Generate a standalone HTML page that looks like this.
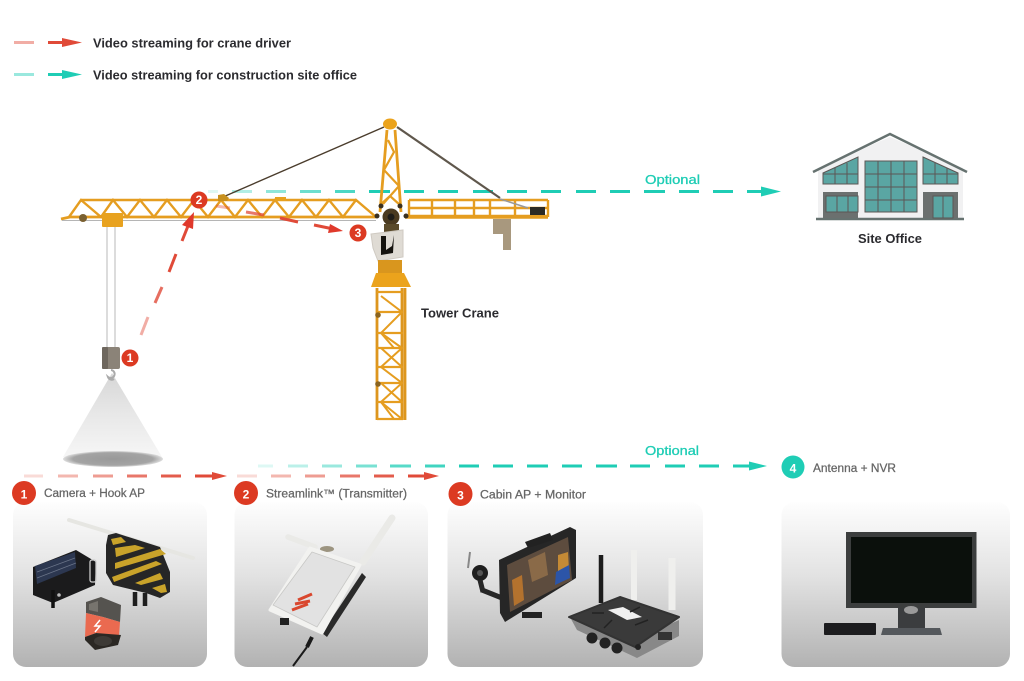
<!DOCTYPE html>
<html lang="en"><head><meta charset="utf-8"><title>Tower crane video streaming diagram</title>
<style>
html,body{margin:0;padding:0;background:#fff}
svg{display:block}
text{font-family:"Liberation Sans",sans-serif}
.l{font-size:12.5px;font-weight:700;fill:#2b2b2f}
.g{font-size:11.5px;fill:#666;stroke:#666;stroke-width:.25}
.o{font-size:13px;fill:#1fcdb5;stroke:#1fcdb5;stroke-width:.3}
.n{font-size:12px;font-weight:700;fill:#fff;text-anchor:middle}
.r{stroke:#e04a38;stroke-width:3;fill:none}
.t{stroke:#1fcdb5;stroke-width:3;fill:none}
.y{stroke:#e59d20;fill:none}
</style></head><body>
<svg width="1024" height="681" viewBox="0 0 1024 681" xmlns="http://www.w3.org/2000/svg">
<defs>
<linearGradient id="c" x1="0" y1="0" x2="0" y2="1"><stop offset="0" stop-color="#fefefe"/><stop offset=".45" stop-color="#e2e2e2"/><stop offset="1" stop-color="#b2b2b2"/></linearGradient>
<linearGradient id="cone" x1="0" y1="0" x2="0" y2="1"><stop offset="0" stop-color="#d6d6d6"/><stop offset=".5" stop-color="#e8e8e8"/><stop offset="1" stop-color="#f6f6f6"/></linearGradient>
<radialGradient id="sh"><stop offset="0" stop-color="#999"/><stop offset=".8" stop-color="#a4a4a4"/><stop offset="1" stop-color="#ddd"/></radialGradient>
</defs>

<!-- legend -->
<path class="r" d="M14 42.500H34" opacity=".45"/><path class="r" d="M48 42.500H64"/><path d="M62 38L82 42.500L62 47Z" fill="#e04a38"/>
<text class="l" x="93" y="47.500" textLength="198" lengthAdjust="spacingAndGlyphs">Video streaming for crane driver</text>
<path class="t" d="M14 74.500H34" opacity=".45"/><path class="t" d="M48 74.500H64"/><path d="M62 70L82 74.500L62 79Z" fill="#1fcdb5"/>
<text class="l" x="93" y="79.500" textLength="264" lengthAdjust="spacingAndGlyphs">Video streaming for construction site office</text>

<!-- top teal line -->
<g class="t">
<path d="M208 191.500H218" opacity=".15"/><path d="M232 191.500H252" opacity=".35"/><path d="M266 191.500H286" opacity=".5"/><path d="M300 191.500H321" opacity=".65"/><path d="M335 191.500H355" opacity=".8"/>
<path d="M369 191.500H390M404 191.500H424M438 191.500H458M473 191.500H493M507 191.500H527M541 191.500H561M576 191.500H596M610 191.500H630M644 191.500H665M679 191.500H699M713 191.500H733M747 191.500H764"/>
</g>
<path d="M761 186.500L781 191.500L761 196.500Z" fill="#1fcdb5"/>
<text class="o" x="645" y="184" textLength="55" lengthAdjust="spacingAndGlyphs">Optional</text>

<!-- crane ties -->
<path d="M223 197L384 127" stroke="#4a3c2c" stroke-width="1.400"/>
<path d="M397 127L500 198" stroke="#5f574c" stroke-width="2.200"/>
<!-- mast head -->
<g class="y" stroke-width="2.800">
<path d="M387 130L380 212M395 130L401 212"/>
<path d="M388 140L394 152L384 170L399 186L383 204M380 205L390 196L400 205" stroke-width="2.200"/>
</g>
<ellipse cx="390" cy="124" rx="7" ry="5.500" fill="#eba31c"/>
<!-- jib -->
<g class="y">
<path d="M81 200H356" stroke-width="2.400"/>
<path d="M61 219L70 217H376" stroke-width="2.800"/>
<path d="M69 217L81 200L101 217L113 200L127 217L140 200L154 217L167 200L181 217L194 200L208 217L221 200L235 217L248 200L262 217L275 200L289 217L302 200L316 217L329 200L343 217L356 200L376 217" stroke-width="2.400"/>
</g>
<path d="M62 220.500H376" stroke="#b5b5b5" stroke-width="1"/>
<rect x="102" y="213" width="21" height="14" rx="1" fill="#e8a21f"/>
<circle cx="83" cy="218" r="4" fill="#7a6030"/>
<path d="M218 195l6-1 5 4-2 3h-9z" fill="#c8901e"/>
<rect x="275" y="197" width="11" height="4" fill="#e8a21f"/>
<!-- counter jib -->
<g class="y" stroke-width="2.400">
<path d="M409 200H548M410 208H548M405 216H548M409 200V216M432 200V216M455 200V216M474 200V216M490 200V216M515 200V216M548 200V217"/>
</g>
<path d="M405 217H548" stroke="#e59d20" stroke-width="3.500"/>
<rect x="530" y="207" width="15" height="8" fill="#2c2a24"/>
<g fill="#a8987e"><rect x="493" y="219" width="6" height="15"/><rect x="499" y="219" width="5" height="15"/><rect x="503" y="219" width="8" height="31"/></g>
<path d="M500 199L528 208" stroke="#999" stroke-width="1.500"/>
<!-- slew -->
<circle cx="391" cy="217" r="8.500" fill="#4a3a20"/><circle cx="391" cy="217" r="3.500" fill="#1e1c18"/>
<circle cx="377" cy="216" r="2.500" fill="#3a3020"/><circle cx="406" cy="216" r="2.500" fill="#3a3020"/><circle cx="381" cy="206" r="2.500" fill="#3a3020"/><circle cx="400" cy="206" r="2.500" fill="#3a3020"/>
<path d="M384 224H399V232H384Z" fill="#5a4a2a"/>
<!-- cab -->
<path d="M371 234L403 230V257L378 261L373 248Z" fill="#dfdbd4" stroke="#cfcac2" stroke-width="1"/>
<path d="M381 236H386L386 250L392 246L394 235L393 253L381 255Z" fill="#15130f"/>
<!-- tower -->
<rect x="378" y="260" width="24" height="14" fill="#d9961e"/>
<path d="M376 273H404L411 287H371Z" fill="#eba31c"/>
<g class="y" stroke-width="1.800">
<path d="M377 288V420M402 288V420M405 288V420" stroke="#dd961e" stroke-width="2.800"/>
<path d="M377 292H403M377 312H403M377 333H403M377 348H403M377 367H403M377 383H403M377 402H403M377 419H403" stroke-width="2.200"/>
<path d="M381 296L402 312L381 333L402 348L381 367L402 383L381 402L402 419M381 348L402 367M381 383L402 402M381 333L394 348M381 402L394 419" stroke-width="2"/>
</g>
<circle cx="378" cy="315" r="2.800" fill="#8a6420"/><circle cx="378" cy="384" r="2.800" fill="#8a6420"/>
<text class="l" x="421" y="317.500" font-size="13" textLength="78" lengthAdjust="spacingAndGlyphs">Tower Crane</text>

<!-- hook -->
<path d="M107 227V348M115 227V348" stroke="#b9b9b9" stroke-width="1"/>
<path d="M112 373L162 457H63Z" fill="url(#cone)"/>
<ellipse cx="113" cy="459" rx="50" ry="8" fill="url(#sh)"/>
<rect x="102" y="347" width="18" height="22" rx="2" fill="#8b8378"/><rect x="102" y="347" width="6" height="22" rx="1" fill="#6e675e"/>
<path d="M111 370a4 4 0 1 1-3 7a4 4 0 0 0 6 2" fill="none" stroke="#aaa" stroke-width="2"/>

<!-- diagonal red -->
<path class="r" d="M141 335L148 317" opacity=".45"/><path class="r" d="M155 303L162 287" opacity=".8"/><path class="r" d="M169 272L176 254M182 241L188 226"/>
<path d="M194 212L193 229L182 225Z" fill="#e0392b"/>
<!-- red 2 to 3 -->
<path class="r" d="M216 206L230 208" opacity=".4"/><path class="r" d="M246 212L264 215" opacity=".75"/><path class="r" d="M280 218L298 222M314 225L331 228.500"/>
<path d="M343 231L328 233L330 224Z" fill="#e0392b"/>

<!-- badges on crane -->
<circle cx="130" cy="358" r="8.500" fill="#dc3a22"/><text class="n" x="130" y="362" font-size="11">1</text>
<circle cx="199" cy="200" r="8.500" fill="#dc3a22"/><text class="n" x="199" y="204" font-size="11">2</text>
<circle cx="358" cy="233" r="8.500" fill="#dc3a22"/><text class="n" x="358" y="237" font-size="11">3</text>

<!-- building -->
<path d="M818 168L890 137L963 168V218H818Z" fill="#f1f1f2"/>
<path d="M813 172L890 134L967 172" fill="none" stroke="#667270" stroke-width="2.500"/>
<path d="M816 219H964" stroke="#667270" stroke-width="2.500"/>
<g fill="#5aa6a3" stroke="#5c5654" stroke-width="1">
<rect x="865" y="161" width="52" height="51"/>
<path d="M823 184V173L858 157V184Z"/><path d="M923 157L958 173V184H923Z"/>
</g>
<g stroke="#5c5654" stroke-width="1" fill="none"><path d="M878 161V212M891 161V212M904 161V212M865 174H917M865 187H917M865 200H917M835 168V184M847 163V184M823 174H858M935 163V184M947 168V184M923 174H958"/></g>
<rect x="823" y="192" width="35" height="26" fill="#6b706f"/><rect x="923" y="192" width="35" height="26" fill="#6b706f"/>
<rect x="826" y="196" width="32" height="16" fill="#5aa6a3" stroke="#5c5654"/><rect x="933" y="196" width="20" height="22" fill="#5aa6a3" stroke="#5c5654"/>
<path d="M837 196V212M848 196V212M943 196V218" stroke="#5c5654"/>
<text class="l" x="858" y="243" textLength="64" lengthAdjust="spacingAndGlyphs">Site Office</text>

<!-- lower teal -->
<g class="t">
<path d="M258 466H273" opacity=".15"/><path d="M288 466H308" opacity=".3"/><path d="M322 466H342" opacity=".45"/><path d="M356 466H377" opacity=".6"/><path d="M390 466H411" opacity=".75"/><path d="M425 466H445" opacity=".85"/>
<path d="M459 466H479M493 466H513M527 466H548M562 466H582M596 466H617M630 466H650M665 466H685M699 466H719M733 466H751"/>
</g>
<path d="M749 461.500L767 466L749 470.500Z" fill="#1fcdb5"/>
<text class="o" x="645" y="455" textLength="54" lengthAdjust="spacingAndGlyphs">Optional</text>
<!-- lower red -->
<g class="r">
<path d="M24 476H43" opacity=".2"/><path d="M58 476H78" opacity=".4"/><path d="M93 476H113" opacity=".55"/><path d="M127 476H147" opacity=".75"/><path d="M161 476H181" opacity=".9"/><path d="M195 476H214"/>
<path d="M237 476H257" opacity=".2"/><path d="M271 476H291" opacity=".4"/><path d="M305 476H325" opacity=".55"/><path d="M340 476H360" opacity=".75"/><path d="M374 476H394" opacity=".9"/><path d="M408 476H426"/>
</g>
<path d="M212 472L227 476L212 480Z" fill="#e04a38"/><path d="M424 472L439 476L424 480Z" fill="#e04a38"/>

<!-- cards -->
<rect x="13" y="502" width="194" height="165" rx="13" fill="url(#c)"/>
<rect x="234.500" y="502" width="193.500" height="165" rx="13" fill="url(#c)"/>
<rect x="447.500" y="502" width="255.500" height="165" rx="13" fill="url(#c)"/>
<rect x="781.500" y="502" width="228.500" height="165" rx="13" fill="url(#c)"/>

<!-- headers -->
<circle cx="24" cy="493" r="12" fill="#dc3a22"/><text class="n" x="24" y="498.500" font-size="15">1</text>
<text class="g" x="44" y="497" textLength="101" lengthAdjust="spacingAndGlyphs">Camera + Hook AP</text>
<circle cx="246" cy="493" r="12" fill="#dc3a22"/><text class="n" x="246" y="498.500" font-size="15">2</text>
<text class="g" x="266" y="497.500" textLength="141" lengthAdjust="spacingAndGlyphs">Streamlink™ (Transmitter)</text>
<circle cx="460.500" cy="494" r="12" fill="#dc3a22"/><text class="n" x="460.500" y="499.500" font-size="15">3</text>
<text class="g" x="480" y="498.500" textLength="106" lengthAdjust="spacingAndGlyphs">Cabin AP + Monitor</text>
<circle cx="793" cy="467" r="11.500" fill="#1fcdb5"/><text class="n" x="793" y="472.500" font-size="15">4</text>
<text class="g" x="813" y="472" textLength="83" lengthAdjust="spacingAndGlyphs">Antenna + NVR</text>

<!-- card 1 -->
<path d="M69 520L193 558" stroke="#e6e6e2" stroke-width="4" stroke-linecap="round"/>
<path d="M108 535L116 533L160 547L170 572V592L160 598L146 593L113 585L106 573V545Z" fill="#262626"/>
<g fill="#c9a32a">
<path d="M111 539L121 537L126 542L113 545Z"/>
<path d="M115 548L135 545L145 548L116 557Z"/>
<path d="M115 563L160 549L166 554L115 569Z"/>
<path d="M112 577L156 561L162 564L114 582Z"/>
<path d="M135 583L160 573L163 579L141 585Z"/>
<path d="M152 588L165 584L167 592L161 593Z"/>
</g>
<path d="M135 592V606M145 593V606" stroke="#1e1e1e" stroke-width="4.500"/>
<path d="M33 567L76 550L96 562L95 585L53 603L33 595Z" fill="#1b1b1c"/>
<path d="M35 566L75 552L76 568L37 584Z" fill="#2c3750"/>
<path d="M37 572L75 558M37 578L76 563" stroke="#6a7488" stroke-width=".7"/>
<rect x="90" y="560" width="6" height="22" rx="2" fill="none" stroke="#ccc" stroke-width="1.300"/>
<path d="M53 590V608" stroke="#111" stroke-width="3.500"/>
<circle cx="59" cy="595" r="1.800" fill="#bbb"/>
<path d="M86 602L101 597L121 605L120 622L103 617L86 613Z" fill="#55534f"/>
<path d="M89 604L98 601L98 612L89 610Z" fill="#77746e"/>
<path d="M86 613L103 617L120 622L119 636L96 633L85 637Z" fill="#ea6a50"/>
<path d="M85 640L95 650L118 645L121 635L96 633L85 637Z" fill="#2b2824"/>
<ellipse cx="103" cy="641" rx="9" ry="5" fill="#3d3a36"/>
<path d="M100 620L95 626H100L95 632" stroke="#fff" stroke-width="1.500" fill="none"/>

<!-- card 2 -->
<path d="M288 537L315 547" stroke="#eaeae7" stroke-width="5.500" stroke-linecap="round"/>
<path d="M392 518L363 562" stroke="#eaeae7" stroke-width="7" stroke-linecap="round"/>
<ellipse cx="327" cy="549" rx="7" ry="3" fill="#9c9480"/>
<path d="M362 573L366 577L327 637L322 633Z" fill="#2a2a2a"/>
<path d="M310 548L360 565L322 633L270 610Z" fill="#f2f2f0" stroke="#f2f2f0" stroke-width="3" stroke-linejoin="round"/>
<path d="M312 552L355 567L317 627L273 605Z" fill="#e2e2e2" stroke="#c8c8c6" stroke-width=".8" stroke-linejoin="round"/>
<path d="M298 600L312 594M295 604L310 601M292 610L308 604" stroke="#d9472e" stroke-width="3"/>
<rect x="280" y="618" width="9" height="7" fill="#222"/>
<path d="M312 637L307 647" stroke="#1a1a1a" stroke-width="4"/>
<path d="M307 647L293 666" stroke="#1a1a1a" stroke-width="2"/>

<!-- card 3 -->
<path d="M499 560L570 527L576 530V578L505 622L500 613Z" fill="#262626"/>
<path d="M507 565L568 537L572 580L510 612Z" fill="#5d4c3e"/>
<path d="M512 580L522 575L524 600L514 606Z" fill="#b3722e"/>
<path d="M528 560L545 552L548 575L532 582Z" fill="#8a6a48"/>
<path d="M558 555L568 552L569 570L558 575Z" fill="#c58a35"/>
<path d="M556 572L569 565L570 578L555 585Z" fill="#2c55a8"/>
<path d="M525 542L550 533L553 540L528 548Z" fill="#222"/>
<path d="M470 552L468 568" stroke="#888" stroke-width="2"/>
<circle cx="480" cy="573" r="8" fill="#1f1f1f"/><circle cx="480" cy="573" r="3" fill="#555"/>
<path d="M482 590L502 598" stroke="#262626" stroke-width="5"/>
<path d="M480 580L483 592" stroke="#262626" stroke-width="5"/>
<rect x="522" y="612" width="20" height="6" fill="#222"/>
<path d="M601 555V603" stroke="#1c1c1c" stroke-width="4.500"/>
<path d="M634 550V600" stroke="#efefed" stroke-width="6"/>
<path d="M672 558V610" stroke="#efefed" stroke-width="7"/>
<path d="M571 619L577 630L637 658L679 636V620L635 640Z" fill="#888"/>
<path d="M569 617L620 597L679 617L635 647Z" fill="#3a3a3a" stroke="#333" stroke-width="2" stroke-linejoin="round"/>
<path d="M608 610L623 607L642 617L627 620Z" fill="#f0f0f0"/>
<path d="M592 613L604 613M640 607L630 612M635 625L648 620M604 628L612 620" stroke="#222" stroke-width="1.500"/>
<circle cx="592" cy="638" r="5.500" fill="#222"/><circle cx="605" cy="643" r="5.500" fill="#222"/><circle cx="617" cy="648" r="5.500" fill="#222"/>
<circle cx="638" cy="647" r="3" fill="#222"/>
<rect x="658" y="632" width="14" height="8" fill="#333"/>

<!-- card 4 -->
<rect x="846" y="532" width="130.500" height="76" fill="#3c3e3e"/>
<rect x="851" y="537" width="121" height="66" fill="#0b100c"/>
<rect x="898" y="608" width="27" height="24" fill="#3b3d3f"/>
<ellipse cx="911" cy="610" rx="7" ry="4" fill="#9a9a9a"/>
<path d="M883 628H940L942 635H881Z" fill="#54585c"/>
<rect x="824" y="623" width="52" height="12" rx="1" fill="#1c1c1e"/>
</svg>
</body></html>
